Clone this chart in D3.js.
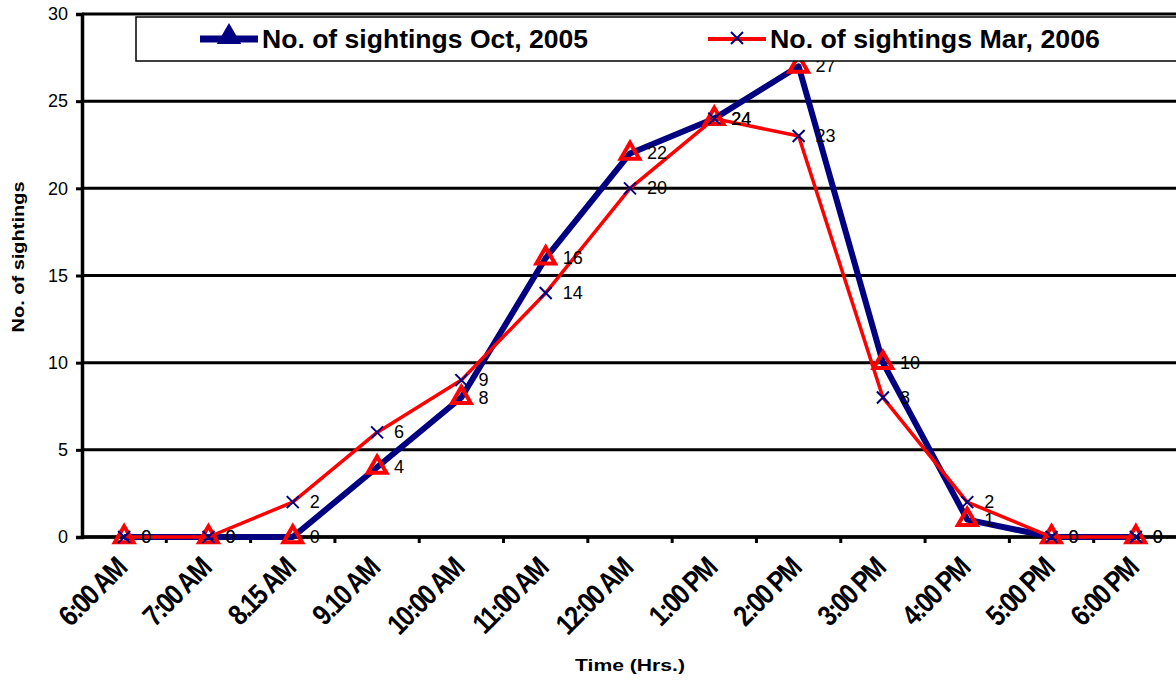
<!DOCTYPE html>
<html>
<head>
<meta charset="utf-8">
<script src="https://cdn.jsdelivr.net/npm/d3@7"></script>
<style>
  body { margin: 0; background: #fff; }
  svg { display: block; font-family: Arial, "Liberation Sans", sans-serif; }
</style>
</head>
<body>
<svg id="chart" width="1176" height="681"></svg>
<script>
// data
var times = ["6:00 AM", "7:00 AM", "8.15 AM", "9.10 AM", "10:00 AM", "11:00 AM",
  "12:00 AM", "1:00 PM", "2:00 PM", "3:00 PM", "4:00 PM", "5:00 PM", "6:00 PM"];
var oct2005 = [0, 0, 0, 4, 8, 16, 22, 24, 27, 10, 1, 0, 0];
var mar2006 = [0, 0, 2, 6, 9, 14, 20, 24, 23, 8, 2, 0, 0];
var yTicks = [0, 5, 10, 15, 20, 25, 30];

var svg = d3.select("#chart");
var plotL = 82, plotR = 1178, plotT = 14, plotB = 537;
var blue = "#000080", red = "#ff0000";

var x = d3.scalePoint().domain(times).range([plotL, plotR]).padding(0.5);
var y = d3.scaleLinear().domain([0, 30]).range([plotB, plotT]);
var step = x.step();

// gridlines
svg.append("g").selectAll("line").data(yTicks).enter().append("line")
  .attr("x1", plotL).attr("x2", 1176)
  .attr("y1", function(d) { return y(d); }).attr("y2", function(d) { return y(d); })
  .attr("stroke", "#000").attr("stroke-width", 3);

// y axis
var yAxis = svg.append("g").attr("transform", "translate(" + plotL + ",0)")
  .call(d3.axisLeft(y).tickValues(yTicks).tickSize(6).tickPadding(8));
yAxis.select(".domain").attr("stroke-width", 3.5);
yAxis.selectAll(".tick line").attr("stroke-width", 3);
yAxis.selectAll("text").attr("font-size", 18).attr("fill", "#000");

// x axis line + ticks between categories
var tickPos = times.map(function(t) { return x(t) - step / 2; });
tickPos.push(x(times[times.length - 1]) + step / 2);
svg.append("line").attr("x1", plotL).attr("x2", 1176).attr("y1", plotB).attr("y2", plotB)
  .attr("stroke", "#000").attr("stroke-width", 3.5);
svg.append("g").selectAll("line").data(tickPos.slice(1)).enter().append("line")
  .attr("x1", function(d) { return d; }).attr("x2", function(d) { return d; })
  .attr("y1", plotB).attr("y2", plotB + 6)
  .attr("stroke", "#000").attr("stroke-width", 3);

// x labels (tall, squeezed)
svg.append("g").selectAll("text").data(times).enter().append("text")
  .attr("transform", function(d) { return "translate(" + (x(d) + 4) + "," + (plotB + 33) + ") rotate(-45) scale(0.85,1)"; })
  .attr("text-anchor", "end")
  .attr("font-weight", "bold").attr("font-size", 29).attr("letter-spacing", -2)
  .text(function(d) { return d; });

// lines
var line = d3.line().x(function(d, i) { return x(times[i]); }).y(function(d) { return y(d); });
svg.append("path").datum(oct2005).attr("d", line)
  .attr("fill", "none").attr("stroke", blue).attr("stroke-width", 6).attr("stroke-linejoin", "round");
svg.append("path").datum(mar2006).attr("d", line)
  .attr("fill", "none").attr("stroke", red).attr("stroke-width", 3.5).attr("stroke-linejoin", "round");

// markers
var tri = d3.symbol().type(d3.symbolTriangle).size(150);
svg.append("g").selectAll("path").data(oct2005).enter().append("path")
  .attr("d", tri)
  .attr("transform", function(d, i) { return "translate(" + x(times[i]) + "," + y(d) + ")"; })
  .attr("fill", "none").attr("stroke", red).attr("stroke-width", 4);
function cross(g, cx, cy, r, color) {
  g.append("path").attr("d", "M" + (cx - r) + "," + (cy - r) + "L" + (cx + r) + "," + (cy + r) +
    "M" + (cx - r) + "," + (cy + r) + "L" + (cx + r) + "," + (cy - r))
    .attr("stroke", color).attr("stroke-width", 2).attr("fill", "none");
}
var xm = svg.append("g");
mar2006.forEach(function(d, i) { cross(xm, x(times[i]), y(d), 6, blue); });

// data labels
function labels(data) {
  svg.append("g").selectAll("text").data(data).enter().append("text")
    .attr("x", function(d, i) { return x(times[i]) + 17; })
    .attr("y", function(d) { return y(d) + 6; })
    .attr("font-size", 18).attr("fill", "#000")
    .text(function(d) { return d; });
}
labels(oct2005);
labels(mar2006);

// legend
var lg = svg.append("g");
lg.append("rect").attr("x", 136).attr("y", 17).attr("width", 1045).attr("height", 44)
  .attr("fill", "#fff").attr("stroke", "#000").attr("stroke-width", 1.5);
lg.append("line").attr("x1", 200).attr("x2", 258).attr("y1", 39).attr("y2", 39)
  .attr("stroke", blue).attr("stroke-width", 7);
lg.append("path").attr("d", d3.symbol().type(d3.symbolTriangle).size(160))
  .attr("transform", "translate(229,37)").attr("fill", blue).attr("stroke", blue).attr("stroke-width", 3);
lg.append("text").attr("x", 262).attr("y", 48).attr("font-weight", "bold").attr("font-size", 25)
  .attr("textLength", 326).attr("lengthAdjust", "spacingAndGlyphs").text("No. of sightings Oct, 2005");
lg.append("line").attr("x1", 708).attr("x2", 766).attr("y1", 39).attr("y2", 39)
  .attr("stroke", red).attr("stroke-width", 4);
cross(lg, 737, 38, 6, blue);
lg.append("text").attr("x", 770).attr("y", 48).attr("font-weight", "bold").attr("font-size", 25)
  .attr("textLength", 330).attr("lengthAdjust", "spacingAndGlyphs").text("No. of sightings Mar, 2006");

// axis titles
svg.append("text").attr("transform", "translate(24,257) rotate(-90)").attr("text-anchor", "middle")
  .attr("font-weight", "bold").attr("font-size", 16)
  .attr("textLength", 151).attr("lengthAdjust", "spacingAndGlyphs").text("No. of sightings");
svg.append("text").attr("x", 630).attr("y", 671).attr("text-anchor", "middle")
  .attr("font-weight", "bold").attr("font-size", 17)
  .attr("textLength", 110).attr("lengthAdjust", "spacingAndGlyphs").text("Time (Hrs.)");
</script>
</body>
</html>
